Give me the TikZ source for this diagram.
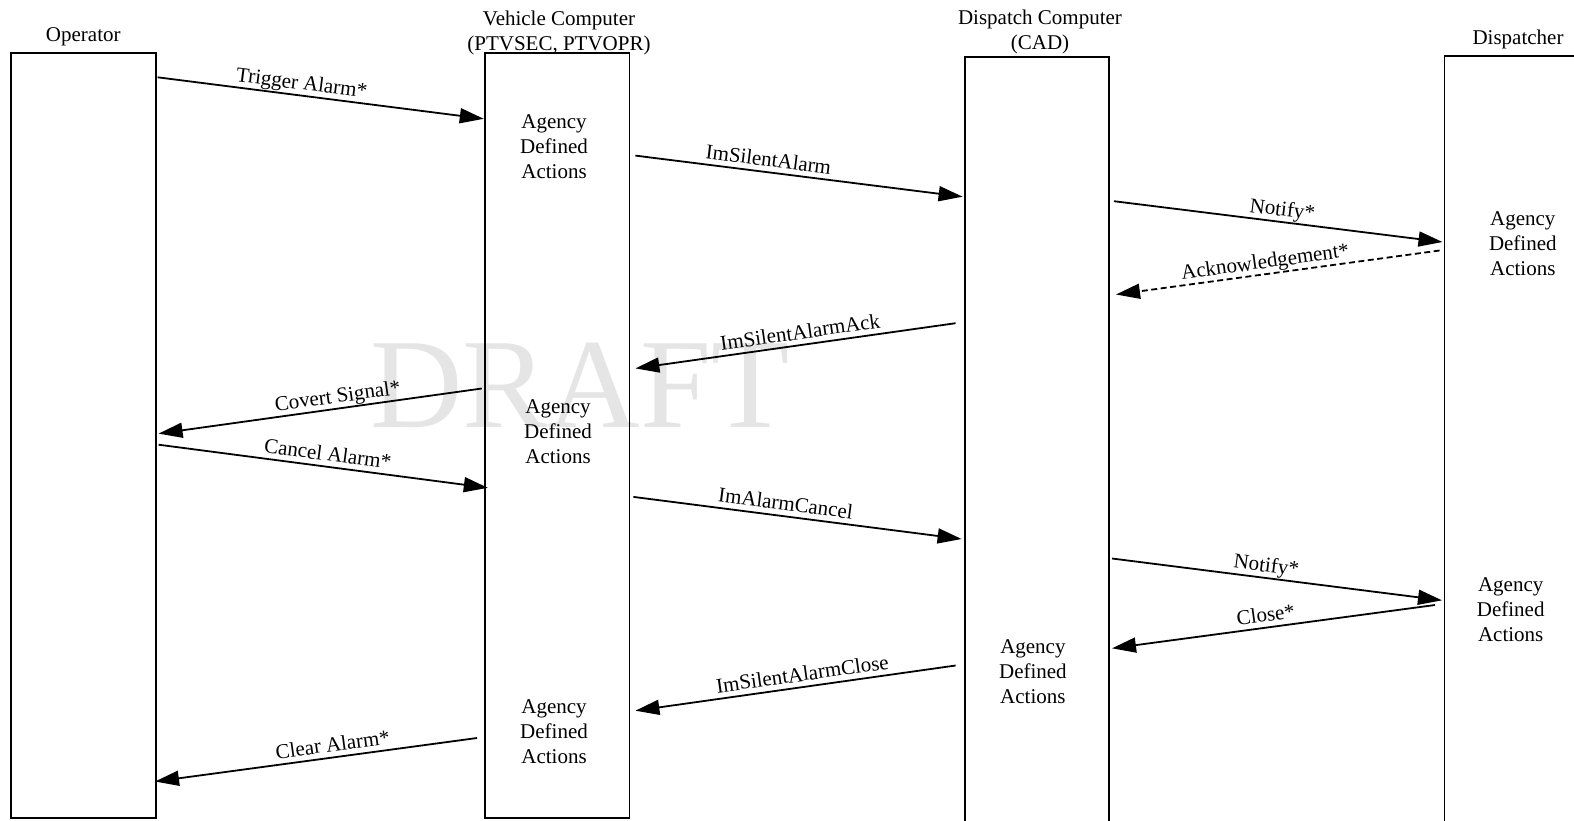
\documentclass[tikz,border=0pt]{standalone}
\usepackage{fontspec}
\setmainfont{Liberation Serif}
\usetikzlibrary{arrows.meta}
\begin{document}
\begin{tikzpicture}[x=1pt,y=-1pt,
  txt/.style={font=\fontsize{21}{25}\selectfont, inner sep=0pt, align=center},
  lifebox/.style={draw, line width=1.8pt, minimum width=144.6pt, inner sep=0pt},
  msg/.style={line width=1.8pt, -{Triangle[length=24pt,width=15pt]}},
  reply/.style={msg, dash pattern=on 6pt off 3.5pt},
  lbl/.style={txt, sloped, above=5pt, text depth=0pt},
]
\path[use as bounding box] (0,0) rectangle (1574,820);
\clip (0,0) rectangle (1574,820);
% watermark
\node[font=\fontsize{128}{130}\selectfont, text=black!10, anchor=base, inner sep=0pt] (wm) at (580,427) {DRAFT};
% lifeline boxes
\node[lifebox, minimum height=764.8pt] (op) at (83.3,435.6) {};
\node[lifebox, minimum height=764.8pt] (vc) at (557.1,435.6) {};
\node[lifebox, minimum height=842.7pt] (dc) at (1036.9,478.65) {};
\node[lifebox, minimum height=844pt] (dp) at (1516.75,478) {};
% headers
\node[txt, anchor=base] (hop) at (83.3,41.5) {Operator};
\node[txt] (hvc) at (559,32.5) {Vehicle Computer\\(PTVSEC, PTVOPR)};
\node[txt] (hdc) at (1040,32) {Dispatch Computer\\(CAD)};
\node[txt, anchor=base] (hdp) at (1518,44.5) {Dispatcher};
% agency defined actions
\node[txt] (a1) at (554,146.6) {Agency\\Defined\\Actions};
\node[txt] (a2) at (558,431.6) {Agency\\Defined\\Actions};
\node[txt] (a3) at (554,731.8) {Agency\\Defined\\Actions};
\node[txt] (a4) at (1032.9,671.5) {Agency\\Defined\\Actions};
\node[txt] (a5) at (1522.8,243.9) {Agency\\Defined\\Actions};
\node[txt] (a6) at (1510.7,609.3) {Agency\\Defined\\Actions};
% message end points
\coordinate (m1s) at (157.6,77.3);   \coordinate (m1e) at (483.8,118.8);
\coordinate (m2s) at (635.4,155.6);  \coordinate (m2e) at (962.6,196.7);
\coordinate (m3s) at (1114,201.2);   \coordinate (m3e) at (1442.5,242);
\coordinate (m4s) at (1439.6,250.5); \coordinate (m4e) at (1116,294.5);
\coordinate (m5s) at (955.6,323.2);  \coordinate (m5e) at (635.4,368.4);
\coordinate (m6s) at (481.8,388.5);  \coordinate (m6e) at (158.6,433.6);
\coordinate (m7s) at (158.6,444.7);  \coordinate (m7e) at (487.8,487.8);
\coordinate (m8s) at (633.4,496.9);  \coordinate (m8e) at (961.6,539);
\coordinate (m9s) at (1112,558.5);   \coordinate (m9e) at (1442,600.3);
\coordinate (m10s) at (1435,605);    \coordinate (m10e) at (1112,648.3);
\coordinate (m11s) at (955.6,665.5); \coordinate (m11e) at (635.4,710.7);
\coordinate (m12s) at (477,738);     \coordinate (m12e) at (155,781.5);
% messages
\draw[msg] (m1s) -- node[lbl, pos=0.437] (l1) {Trigger Alarm*} (m1e);
\draw[msg] (m2s) -- node[lbl, pos=0.402] (l2) {ImSilentAlarm} (m2e);
\draw[msg] (m3s) -- node[lbl, pos=0.508] (l3) {Notify*} (m3e);
\draw[reply] (m4s) -- node[lbl, pos=0.534] (l4) {Acknowledgement*} (m4e);
\draw[msg] (m5s) -- node[lbl, pos=0.48] (l5) {ImSilentAlarmAck} (m5e);
\draw[msg] (m6s) -- node[lbl, pos=0.441] (l6) {Covert Signal*} (m6e);
\draw[msg] (m7s) -- node[lbl, pos=0.509] (l7) {Cancel Alarm*} (m7e);
\draw[msg] (m8s) -- node[lbl, pos=0.459] (l8) {ImAlarmCancel} (m8e);
\draw[msg] (m9s) -- node[lbl, pos=0.463] (l9) {Notify*} (m9e);
\draw[msg] (m10s) -- node[lbl, pos=0.519] (l10) {Close*} (m10e);
\draw[msg] (m11s) -- node[lbl, pos=0.473] (l11) {ImSilentAlarmClose} (m11e);
\draw[msg] (m12s) -- node[lbl, pos=0.443] (l12) {Clear Alarm*} (m12e);
\end{tikzpicture}
\end{document}
